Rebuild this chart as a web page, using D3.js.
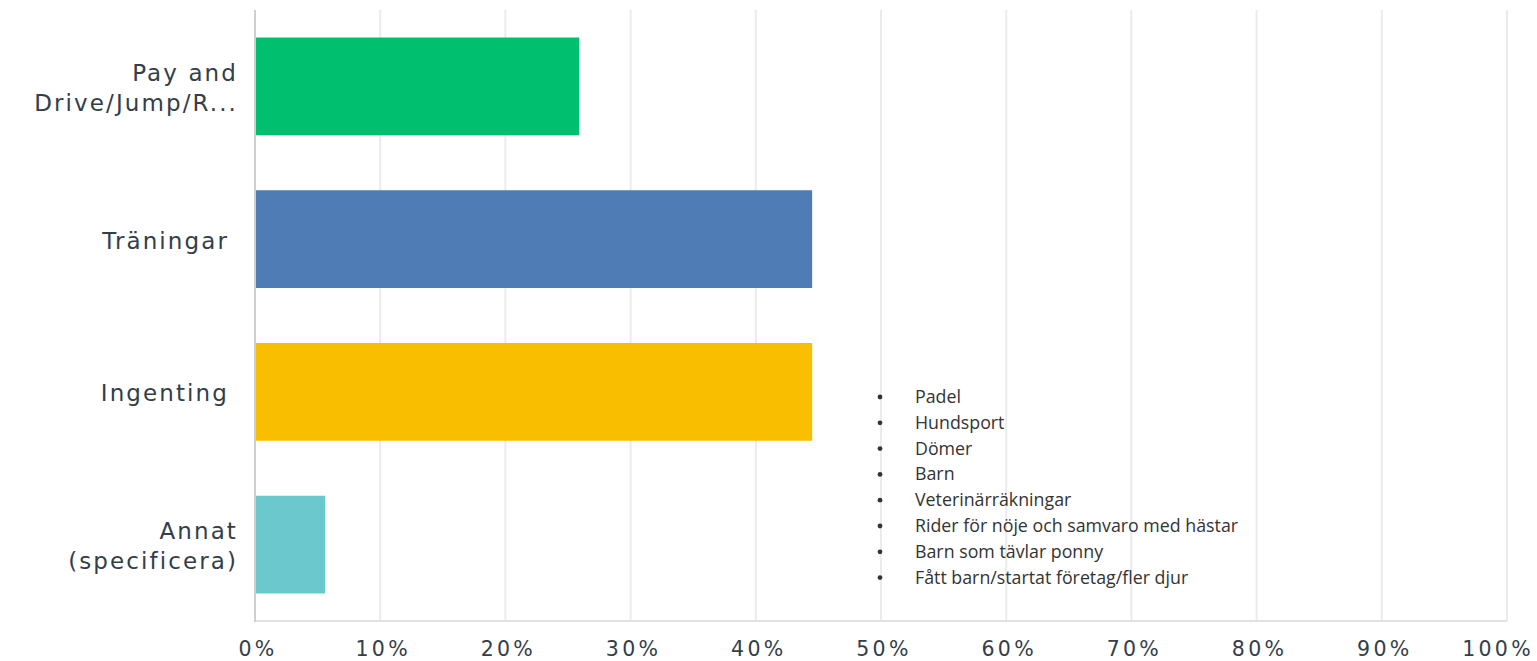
<!DOCTYPE html>
<html><head><meta charset="utf-8">
<script src="https://cdn.jsdelivr.net/npm/d3@7"></script>
<style>body{margin:0;background:#fff;} svg{display:block;}</style>
</head><body>
<svg id="chart" width="1537" height="661"></svg>
<script>
const categories = [["Pay and", "Drive/Jump/R..."], ["Träningar"], ["Ingenting"], ["Annat", "(specificera)"]];
const values = [25.9, 44.5, 44.5, 5.6];
const colors = ["#00bf6f", "#507cb6", "#f9be00", "#6bc8cd"];
const ticks = [0, 10, 20, 30, 40, 50, 60, 70, 80, 90, 100];
const tickLabels = ticks.map(t => t + "%");
const notes = ["Padel", "Hundsport", "Dömer", "Barn", "Veterinärräkningar",
  "Rider för nöje och samvaro med hästar", "Barn som tävlar ponny", "Fått barn/startat företag/fler djur"];

const svg = d3.select("#chart");
const x = d3.scaleLinear().domain([0, 100]).range([255, 1507]);
const y = d3.scaleBand().domain(d3.range(categories.length)).range([10, 621]).paddingInner(0.36).paddingOuter(0.18);

// gridlines
svg.append("g").selectAll("line").data(ticks.slice(1)).join("line")
  .attr("x1", d => x(d)).attr("x2", d => x(d)).attr("y1", 10).attr("y2", 621)
  .attr("stroke", "#ebebeb").attr("stroke-width", 2);
// bottom line
svg.append("line").attr("x1", x(0)).attr("x2", x(100)).attr("y1", 621).attr("y2", 621)
  .attr("stroke", "#d9d9d9").attr("stroke-width", 1.5);
// left axis
svg.append("line").attr("x1", x(0)).attr("x2", x(0)).attr("y1", 10).attr("y2", 622)
  .attr("stroke", "#cfcfcf").attr("stroke-width", 2);

// bars
svg.append("g").selectAll("rect").data(values).join("rect")
  .attr("x", x(0) + 1).attr("y", (d, i) => y(i)).attr("height", y.bandwidth())
  .attr("width", d => x(d) - x(0) - 1).attr("fill", (d, i) => colors[i]);

// category labels
const lab = svg.append("g").selectAll("text").data(categories).join("text")
  .attr("text-anchor", "end")
  .attr("font-family", "DejaVu Sans, sans-serif").attr("font-size", 23)
  .attr("letter-spacing", 2.1).attr("fill", "#333e48");
lab.each(function(lines, i) {
  const c = y(i) + y.bandwidth() / 2 + 9.5;
  const n = lines.length;
  const xr = n === 1 ? 229 : 238;
  d3.select(this).selectAll("tspan").data(lines).join("tspan")
    .attr("x", xr).attr("y", (d, k) => c + (k - (n - 1) / 2) * 30.5).text(d => d);
});

// x tick labels
svg.append("g").selectAll("text").data(ticks).join("text")
  .attr("x", (d, i) => i === ticks.length - 1 ? x(d) + 27 : x(d) + 3)
  .attr("y", 656)
  .attr("text-anchor", (d, i) => i === ticks.length - 1 ? "end" : "middle")
  .attr("font-family", "DejaVu Sans, sans-serif").attr("font-size", 20.5)
  .attr("letter-spacing", 3.3).attr("fill", "#333e48")
  .text((d, i) => tickLabels[i]);

// annotation list
const ng = svg.append("g").attr("font-family", "Open Sans, sans-serif").attr("fill", "#333333");
ng.selectAll("circle").data(notes).join("circle")
  .attr("cx", 880).attr("cy", (d, i) => 397 + i * 25.8).attr("r", 2.4).attr("fill", "#333333");
ng.selectAll("text.t").data(notes).join("text").attr("class", "t")
  .attr("x", 915).attr("y", (d, i) => 403 + i * 25.8).attr("font-size", 17.8).text(d => d);
</script>
</body></html>
